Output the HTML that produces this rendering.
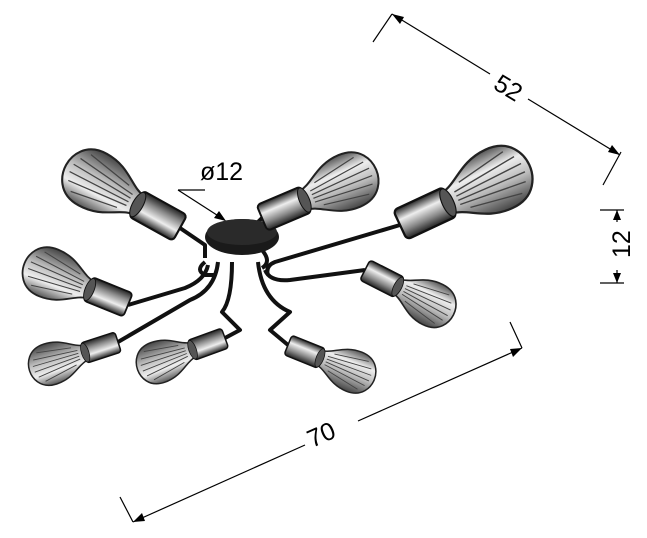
<!DOCTYPE html>
<html><head><style>html,body{margin:0;padding:0;background:#fff;}svg{display:block}</style></head>
<body>
<svg width="647" height="538" viewBox="0 0 647 538" xmlns="http://www.w3.org/2000/svg">
<defs>
<linearGradient id="g" x1="0" y1="0" x2="0" y2="1">
<stop offset="0" stop-color="#555"/><stop offset="0.3" stop-color="#eee"/><stop offset="0.6" stop-color="#bbb"/><stop offset="1" stop-color="#444"/></linearGradient>
<linearGradient id="s" x1="0" y1="0" x2="0" y2="1">
<stop offset="0" stop-color="#222"/><stop offset="0.35" stop-color="#eee"/><stop offset="0.7" stop-color="#888"/><stop offset="1" stop-color="#222"/></linearGradient>
<g id="b">
<path d="M45,-10 C60,-12 70,-28 95,-28 C118,-28 124,-10 124,0 C124,10 118,28 95,28 C70,28 60,12 45,10 Z" fill="url(#g)" stroke="#222" stroke-width="2"/>
<path d="M55,-6 L115,-12 M55,-2 L118,-4 M55,2 L118,4 M55,6 L115,12 M62,-12 L108,-20 M62,12 L108,20" stroke="#444" stroke-width="1.2" fill="none"/>
<rect x="0" y="-14" width="48" height="28" rx="4" fill="url(#s)" stroke="#111" stroke-width="2"/>
<ellipse cx="46" cy="0" rx="5" ry="13" fill="#555" stroke="#111"/>
</g>
</defs>
<g fill="none" stroke="#111" stroke-width="4" stroke-linejoin="round">
<path d="M180,228 L205,245 L205,258"/>
<path d="M262,218 L250,230"/>
<path d="M400,225 L275,262 Q265,266 268,275"/>
<path d="M128,305 L185,288 Q205,280 208,265"/>
<path d="M365,270 L290,280 Q270,282 265,270"/>
<path d="M118,342 L190,300 Q215,290 218,262"/>
<path d="M225,338 L240,330 L222,312 Q232,300 232,262"/>
<path d="M288,345 L270,330 L290,312 Q262,300 258,262"/>
<path d="M205,262 Q195,270 205,275 L215,275"/>
<path d="M262,250 Q272,262 262,268"/>
</g>
<ellipse cx="242" cy="237" rx="37" ry="18" fill="#1a1a1a"/>
<ellipse cx="242" cy="232" rx="35" ry="13" fill="#2a2a2a"/>
<use href="#b" transform="translate(180,228) rotate(209) scale(1.05)"/>
<use href="#b" transform="translate(262,218) rotate(-23) scale(1.0)"/>
<use href="#b" transform="translate(400,225) rotate(-25) scale(1.15)"/>
<use href="#b" transform="translate(128,305) rotate(202) scale(0.9)"/>
<use href="#b" transform="translate(365,270) rotate(27) scale(0.8)"/>
<use href="#b" transform="translate(118,342) rotate(162) scale(0.75)"/>
<use href="#b" transform="translate(225,338) rotate(160) scale(0.75)"/>
<use href="#b" transform="translate(288,345) rotate(22) scale(0.75)"/>
<g stroke="#000" stroke-width="1.2" fill="none">
<line x1="373" y1="42" x2="392" y2="14"/>
<line x1="603" y1="185" x2="621" y2="152"/>
<line x1="392" y1="14" x2="490" y2="74"/>
<line x1="528" y1="99" x2="620" y2="155"/>
<line x1="600" y1="210" x2="624" y2="210"/>
<line x1="600" y1="283" x2="624" y2="283"/>
<line x1="617" y1="210" x2="617" y2="222"/>
<line x1="617" y1="270" x2="617" y2="283"/>
<line x1="120" y1="497" x2="133" y2="522"/>
<line x1="510" y1="322" x2="522" y2="348"/>
<line x1="133" y1="522" x2="305" y2="445"/>
<line x1="358" y1="421" x2="522" y2="348"/>
<line x1="178" y1="190" x2="205" y2="190"/>
<line x1="178" y1="190" x2="220" y2="217"/>
</g>
<g fill="#000">
<polygon points="392,14 404,17 400,24"/>
<polygon points="620,155 608,152 612,145"/>
<polygon points="617,210 613,220 621,220"/>
<polygon points="617,283 613,273 621,273"/>
<polygon points="133,522 142,513 145,521"/>
<polygon points="522,348 513,357 510,349"/>
<polygon points="226,221 214,218 219,211"/>
</g>
<g font-family="Liberation Sans, sans-serif" font-size="25" fill="#000">
<text x="200" y="180">ø12</text>
<text x="0" y="0" transform="translate(492,88) rotate(31)">52</text>
<text x="0" y="0" transform="translate(630,258) rotate(-90)">12</text>
<text x="0" y="0" transform="translate(312,448) rotate(-24)">70</text>
</g>
</svg>
</body></html>
